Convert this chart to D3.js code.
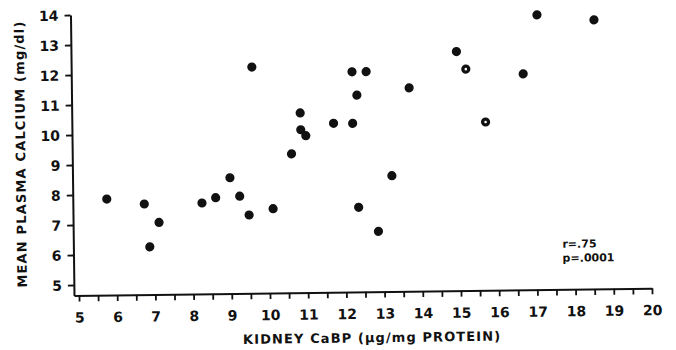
<!DOCTYPE html>
<html>
<head>
<meta charset="utf-8">
<script src="https://cdn.jsdelivr.net/npm/d3@7"></script>
<style>
  body { margin: 0; background: #fff; }
  svg text { font-family: "DejaVu Sans", sans-serif; fill: #111; }
</style>
</head>
<body>
<div id="chart"></div>
<script>
  // kidney CaBP (x) vs mean plasma calcium (y)
  var cabp    = [5.76, 6.74, 6.87, 7.12, 8.25, 8.61, 8.99, 9.24, 9.48, 9.60,
                 10.11, 10.61, 10.85, 10.86, 10.99, 11.72, 12.22, 12.22, 12.34, 12.35,
                 12.59, 12.86, 13.23, 13.71, 14.96, 15.20, 15.70, 16.70, 17.08, 18.57];
  var calcium = [7.85, 7.67, 6.24, 7.05, 7.68, 7.85, 8.51, 7.89, 7.26, 12.19,
                 7.46, 9.28, 10.64, 10.08, 9.88, 10.28, 11.99, 10.27, 11.21, 7.47,
                 11.99, 6.66, 8.51, 11.43, 12.62, 12.03, 10.26, 11.85, 13.81, 13.62];
  var openPts = [25, 26]; // index of dots drawn with a pale centre

  var xTicks  = d3.range(5, 20.01, 0.5);
  var yTicks  = [5, 6, 7, 8, 9, 10, 11, 12, 13, 14];
  var xTitle  = "KIDNEY CaBP (\u03BCg/mg PROTEIN)";
  var yTitle  = "MEAN PLASMA CALCIUM (mg/dl)";
  var stats   = ["r=.75", "p=.0001"];

  var width = 676, height = 350;
  var ox = 74, oy = 295.5;   // axis corner

  var x = d3.scaleLinear().domain([4.87, 20]).range([ox, 652]);
  var y = d3.scaleLinear().domain([4.65, 14]).range([oy, 15]);

  var svg = d3.select("#chart").append("svg")
              .attr("width", width)
              .attr("height", height);

  // the scanned figure is slightly tilted
  var g = svg.append("g")
             .attr("transform", "rotate(-0.72," + ox + "," + oy + ")");

  var xAxis = d3.axisBottom(x)
                .tickValues(xTicks)
                .tickSize(6)
                .tickSizeOuter(0)
                .tickFormat(d => d % 1 === 0 ? d : "");

  var yAxis = d3.axisLeft(y)
                .tickValues(yTicks)
                .tickSize(6)
                .tickSizeOuter(0)
                .tickFormat(d => d);

  var gx = g.append("g")
            .attr("transform", "translate(0," + oy + ")")
            .call(xAxis);

  var gy = g.append("g")
            .attr("transform", "translate(" + ox + ",0)")
            .call(yAxis);

  [gx, gy].forEach(function(a){
    a.select(".domain").attr("stroke", "#111").attr("stroke-width", 2);
    a.selectAll(".tick line").attr("stroke", "#111").attr("stroke-width", 1.8);
    a.selectAll(".tick text")
     .style("font-size", "14px")
     .style("font-weight", "bold")
     .style("fill", "#111");
  });

  gx.selectAll(".tick text").attr("y", 27).attr("dy", 0);
  gy.selectAll(".tick text").attr("x", -12).attr("dy", "0.36em");

  // dots
  var pts = cabp.map((d, i) => ({x: d, y: calcium[i], open: openPts.indexOf(i) >= 0}));

  g.selectAll("circle.dot")
    .data(pts)
    .enter()
    .append("circle")
    .attr("class", "dot")
    .attr("cx", d => x(d.x))
    .attr("cy", d => y(d.y))
    .attr("r", 4.6)
    .attr("fill", "#111");

  g.selectAll("circle.hole")
    .data(pts.filter(d => d.open))
    .enter()
    .append("circle")
    .attr("class", "hole")
    .attr("cx", d => x(d.x))
    .attr("cy", d => y(d.y))
    .attr("r", 1.3)
    .attr("fill", "#fff");

  // axis titles
  g.append("text")
    .attr("x", 371)
    .attr("y", 346)
    .attr("text-anchor", "middle")
    .attr("textLength", 257)
    .style("font-size", "13px")
    .style("font-weight", "bold")
    .text(xTitle);

  g.append("text")
    .attr("transform", "translate(27,154) rotate(-90)")
    .attr("text-anchor", "middle")
    .attr("textLength", 266)
    .style("font-size", "13px")
    .style("font-weight", "bold")
    .text(yTitle);

  // stats note
  g.selectAll("text.stat")
    .data(stats)
    .enter()
    .append("text")
    .attr("class", "stat")
    .attr("x", 563)
    .attr("y", (d, i) => 254 + i * 14)
    .style("font-size", "11px")
    .style("font-weight", "bold")
    .text(d => d);
</script>
</body>
</html>
